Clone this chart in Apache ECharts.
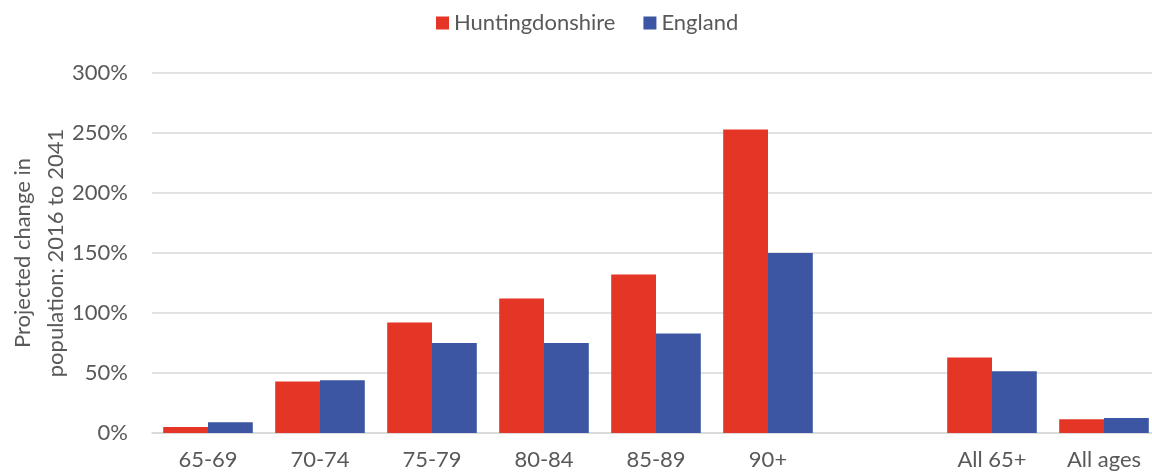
<!DOCTYPE html>
<html>
<head>
<meta charset="utf-8">
<script src="https://cdn.jsdelivr.net/npm/echarts@6/dist/echarts.min.js"></script>
<style>html,body{margin:0;padding:0;background:#fff;}#c{width:1152px;height:475px;}</style>
</head>
<body>
<div id="c"></div>
<script>
const categories = ['65-69', '70-74', '75-79', '80-84', '85-89', '90+', '', 'All 65+', 'All ages'];
const huntingdonshire = [5, 43, 92, 112, 132, 253, '-', 63, 11.5];
const england = [9, 44, 75, 75, 83, 150, '-', 51.5, 12.5];
const yTicks = [0, 50, 100, 150, 200, 250, 300];

const FONT = 'Lato';
const TXT = '#595959';
const chart = echarts.init(document.getElementById('c'), null, {renderer: 'canvas'});
chart.setOption({
  animation: false,
  textStyle: {fontFamily: FONT},
  legend: {
    top: 7, left: 431,
    itemWidth: 13, itemHeight: 13, itemGap: 28,
    icon: 'rect',
    textStyle: {fontFamily: FONT, fontSize: 22, color: TXT},
    data: ['Huntingdonshire', 'England']
  },
  grid: {left: 152, right: -8, top: 73, bottom: 42, containLabel: false, outerBoundsMode: 'none'},
  xAxis: {
    type: 'category', data: categories,
    axisLine: {lineStyle: {color: '#D9D9D9', width: 1.5}},
    axisTick: {show: false},
    axisLabel: {fontFamily: FONT, fontSize: 22, color: TXT, margin: 16, interval: 0}
  },
  yAxis: {
    type: 'value', min: yTicks[0], max: yTicks[yTicks.length-1], interval: 50,
    name: 'Projected change in\npopulation: 2016 to 2041',
    nameLocation: 'middle', nameGap: 80, nameRotate: 90, nameMoveOverlap: false,
    nameTextStyle: {fontFamily: FONT, fontSize: 22, color: TXT, lineHeight: 33},
    axisLine: {show: false}, axisTick: {show: false},
    axisLabel: {fontFamily: FONT, fontSize: 22, color: TXT, margin: 24, formatter: '{value}%'},
    splitLine: {lineStyle: {color: '#D9D9D9', width: 1.5}}
  },
  series: [
    {name: 'Huntingdonshire', type: 'bar', data: huntingdonshire, barGap: '0%', barCategoryGap: '20%',
     itemStyle: {color: '#E43526'}},
    {name: 'England', type: 'bar', data: england, barGap: '0%', barCategoryGap: '20%',
     itemStyle: {color: '#3C56A3'}}
  ]
});
</script>
</body>
</html>
